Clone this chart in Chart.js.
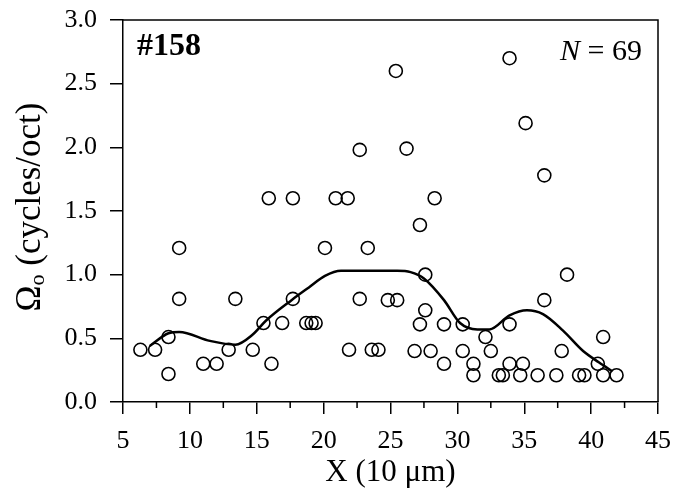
<!DOCTYPE html>
<html>
<head>
<meta charset="utf-8">
<script src="https://cdn.jsdelivr.net/npm/chart.js@4"></script>
<style>
  html, body { margin: 0; padding: 0; background: #fff; }
  #wrap { width: 676px; height: 494px; }
</style>
</head>
<body>
<div id="wrap"><canvas id="chart" width="676" height="494"></canvas></div>
<script>
// measured points (x in 10 µm, Ω0 in cycles/oct)
const pointX = [6.3, 7.4, 8.4, 8.4, 9.2, 9.2, 11.0, 12.0, 12.9, 13.4, 14.7, 15.5, 15.9, 16.1, 16.9, 17.7, 17.7, 18.7, 19.1, 19.4,
  20.1, 20.9, 21.8, 22.7, 21.9, 22.7, 23.3, 23.6, 24.1, 24.8, 25.5, 25.4, 26.2, 27.2, 28.3, 27.6, 27.6, 27.2, 29.0, 26.8,
  28.0, 29.0, 30.4, 30.4, 31.2, 31.2, 32.1, 32.5, 33.1, 33.4, 33.9, 33.9, 33.9, 34.7, 34.9, 35.1, 36.0, 36.5, 36.5, 37.4,
  37.8, 38.2, 39.1, 39.5, 40.5, 40.9, 40.9, 41.9];
const pointY = [0.41, 0.41, 0.51, 0.22, 1.21, 0.81, 0.30, 0.30, 0.41, 0.81, 0.41, 0.62, 1.60, 0.30, 0.62, 0.81, 1.60, 0.62, 0.62, 0.62,
  1.21, 1.60, 1.60, 1.98, 0.41, 0.81, 1.21, 0.41, 0.41, 0.80, 0.80, 2.60, 1.99, 1.39, 1.60, 1.00, 0.72, 0.61, 0.61, 0.40,
  0.40, 0.30, 0.61, 0.40, 0.30, 0.21, 0.51, 0.40, 0.21, 0.21, 0.30, 0.61, 2.70, 0.21, 0.30, 2.19, 0.21, 0.80, 1.78, 0.21,
  0.40, 1.00, 0.21, 0.21, 0.30, 0.51, 0.21, 0.21];

// smoothed trend curve
const smoothX = [7.0, 8.4, 9.2, 11.5, 13.4, 14.7, 15.7, 17.6, 18.9, 20.1, 21.3, 22.8, 24.1, 25.5, 26.5, 27.5, 29.0, 30.2, 31.5, 32.4,
  33.9, 35.2, 36.4, 37.9, 39.4, 40.6, 41.6];
const smoothY = [0.44, 0.54, 0.55, 0.48, 0.45, 0.53, 0.64, 0.80, 0.90, 0.99, 1.03, 1.03, 1.03, 1.03, 1.02, 0.97, 0.80, 0.62, 0.57, 0.57,
  0.68, 0.72, 0.69, 0.56, 0.40, 0.31, 0.24];

const xTicks = [5, 10, 15, 20, 25, 30, 35, 40, 45];
const xMinorTicks = [7.5, 12.5, 17.5, 22.5, 27.5, 32.5, 37.5, 42.5];
const yTicks = [0, 0.5, 1.0, 1.5, 2.0, 2.5, 3.0];

const panelLabel = '#158';
const countLabel = '69';

const serif = "'Liberation Serif', 'DejaVu Serif', serif";

const frameAndText = {
  id: 'frameAndText',
  afterDraw(chart) {
    const { ctx, chartArea: a, scales } = chart;
    ctx.save();
    ctx.strokeStyle = '#000';
    ctx.lineWidth = 1.5;
    ctx.beginPath();
    ctx.moveTo(a.left, a.top);
    ctx.lineTo(a.right, a.top);
    ctx.lineTo(a.right, a.bottom);
    ctx.stroke();

    // minor ticks on x
    ctx.beginPath();
    xMinorTicks.forEach(v => {
      const px = scales.x.getPixelForValue(v);
      ctx.moveTo(px, a.bottom);
      ctx.lineTo(px, a.bottom + 6);
    });
    ctx.stroke();

    ctx.fillStyle = '#000';
    ctx.textBaseline = 'alphabetic';
    ctx.textAlign = 'left';
    ctx.font = 'bold 32px ' + serif;
    ctx.fillText(panelLabel, a.left + 14, a.top + 35);

    ctx.textAlign = 'right';
    ctx.font = '30px ' + serif;
    const numW = ctx.measureText(' = ' + countLabel).width;
    ctx.fillText(' = ' + countLabel, a.right - 16, a.top + 40);
    ctx.font = 'italic 30px ' + serif;
    ctx.fillText('N', a.right - 16 - numW, a.top + 40);

    // y title with subscript
    ctx.translate(31, 207);
    ctx.rotate(-Math.PI / 2);
    ctx.textBaseline = 'middle';
    ctx.textAlign = 'left';
    const p1 = 'Ω', p2 = 'o', p3 = ' (cycles/oct)';
    ctx.font = '35px ' + serif;
    const w1 = ctx.measureText(p1).width;
    const w3 = ctx.measureText(p3).width;
    ctx.font = '22px ' + serif;
    const w2 = ctx.measureText(p2).width;
    let x0 = -(w1 + w2 + w3) / 2;
    ctx.font = '35px ' + serif;
    ctx.fillText(p1, x0, 0);
    ctx.font = '22px ' + serif;
    ctx.fillText(p2, x0 + w1, 7);
    ctx.font = '35px ' + serif;
    ctx.fillText(p3, x0 + w1 + w2, 0);
    ctx.restore();
  }
};

new Chart(document.getElementById('chart'), {
  type: 'scatter',
  data: {
    datasets: [
      {
        data: pointX.map((x, i) => ({ x, y: pointY[i] })),
        showLine: false,
        pointStyle: 'circle',
        pointRadius: 6.5,
        pointBorderWidth: 1.6,
        pointBorderColor: '#000',
        pointBackgroundColor: 'rgba(0,0,0,0)'
      },
      {
        data: smoothX.map((x, i) => ({ x, y: smoothY[i] })),
        showLine: true,
        tension: 0.4,
        cubicInterpolationMode: 'monotone',
        borderColor: '#000',
        borderWidth: 2.5,
        pointRadius: 0
      }
    ]
  },
  options: {
    responsive: false,
    animation: false,
    layout: { padding: { top: 20, right: 18, left: 0, bottom: 0 } },
    plugins: { legend: { display: false }, tooltip: { enabled: false } },
    scales: {
      x: {
        type: 'linear',
        min: 5, max: 45,
        afterBuildTicks: s => { s.ticks = xTicks.map(v => ({ value: v })); },
        afterFit: s => { s.height = 92; s.paddingLeft = 0; s.paddingRight = 0; },
        border: { display: true, color: '#000', width: 1.5 },
        grid: { drawOnChartArea: false, color: '#000', lineWidth: 1.5, tickLength: 12 },
        ticks: { color: '#000', padding: 12, maxRotation: 0, font: { family: serif, size: 26 } },
        title: { display: true, text: 'X (10 μm)', color: '#000', padding: { top: 0, bottom: 3 }, font: { family: serif, size: 31 } }
      },
      y: {
        type: 'linear',
        min: 0, max: 3,
        afterBuildTicks: s => { s.ticks = yTicks.map(v => ({ value: v })); },
        afterFit: s => { s.width = 123; s.paddingTop = 0; s.paddingBottom = 0; },
        border: { display: true, color: '#000', width: 1.5 },
        grid: { drawOnChartArea: false, color: '#000', lineWidth: 1.5, tickLength: 13 },
        ticks: { color: '#000', padding: 13, callback: v => v.toFixed(1), font: { family: serif, size: 26 } }
      }
    }
  },
  plugins: [frameAndText]
});
</script>
</body>
</html>
